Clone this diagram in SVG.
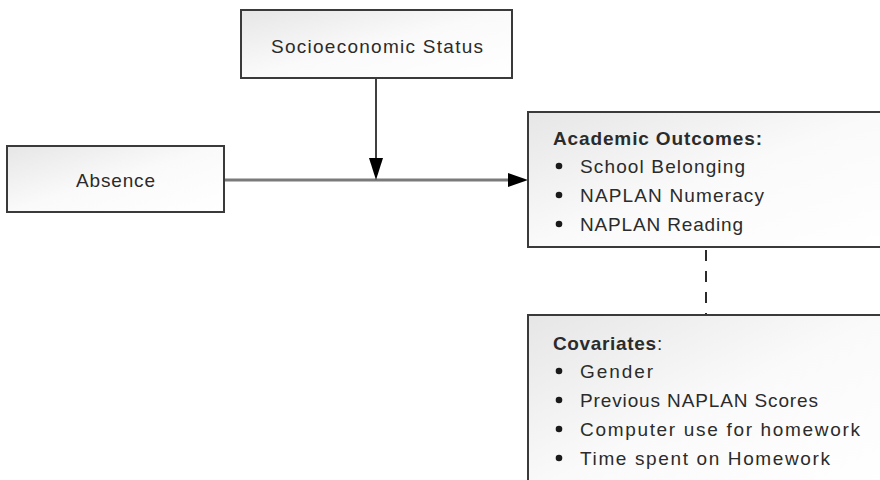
<svg xmlns="http://www.w3.org/2000/svg" width="880" height="480" viewBox="0 0 880 480">
<defs>
<linearGradient id="g" x1="0" y1="0" x2="1" y2="1">
<stop offset="0" stop-color="#e6e6e6"/>
<stop offset="0.5" stop-color="#fafafa"/>
<stop offset="1" stop-color="#ffffff"/>
</linearGradient>
</defs>
<style>
.box{fill:url(#g);stroke:#3a3a3a;stroke-width:2}
.t{font-family:"Liberation Sans",Arial,sans-serif;font-size:19px;fill:#2b2b2b}
.b{font-weight:bold}
.dot{fill:#1a1a1a}
.head{fill:#000}
</style>
<rect width="880" height="480" fill="#fff"/>
<g id="connectors">
<line x1="225" y1="180" x2="510" y2="180" stroke="#7a7a7a" stroke-width="3"/>
<path class="head" d="M508,173 L528,180 L508,187 z"/>
<line x1="376" y1="78" x2="376" y2="160" stroke="#000" stroke-width="1.5"/>
<path class="head" d="M369,158 L383,158 L376,180 z"/>
<line x1="706" y1="247" x2="706" y2="315" stroke="#2b2b2b" stroke-width="2" stroke-dasharray="11,10" stroke-dashoffset="-3"/>
</g>
<g id="ses">
<rect class="box" x="241" y="10" width="271" height="68"/>
<text class="t" x="271" y="53" textLength="212" lengthAdjust="spacing">Socioeconomic Status</text>
</g>
<g id="absence">
<rect class="box" x="7" y="146" width="217" height="66"/>
<text class="t" x="76" y="187" textLength="79" lengthAdjust="spacing">Absence</text>
</g>
<g id="outcomes">
<rect class="box" x="528" y="112" width="360" height="135"/>
<text class="t b" x="553" y="145" textLength="209" lengthAdjust="spacing">Academic Outcomes:</text>
<circle class="dot" cx="559" cy="166" r="3.3"/>
<text class="t" x="580" y="173" textLength="165" lengthAdjust="spacing">School Belonging</text>
<circle class="dot" cx="559" cy="195" r="3.3"/>
<text class="t" x="580" y="202" textLength="184" lengthAdjust="spacing">NAPLAN Numeracy</text>
<circle class="dot" cx="559" cy="224" r="3.3"/>
<text class="t" x="580" y="231" textLength="163" lengthAdjust="spacing">NAPLAN Reading</text>
</g>
<g id="covariates">
<rect class="box" x="528" y="315" width="360" height="180"/>
<text class="t b" x="553" y="350" textLength="103" lengthAdjust="spacing">Covariates</text>
<text class="t" x="657" y="350">:</text>
<circle class="dot" cx="559" cy="371" r="3.3"/>
<text class="t" x="580" y="378" textLength="73" lengthAdjust="spacing">Gender</text>
<circle class="dot" cx="559" cy="400" r="3.3"/>
<text class="t" x="580" y="407" textLength="238" lengthAdjust="spacing">Previous NAPLAN Scores</text>
<circle class="dot" cx="559" cy="429" r="3.3"/>
<text class="t" x="580" y="436" textLength="280" lengthAdjust="spacing">Computer use for homework</text>
<circle class="dot" cx="559" cy="458" r="3.3"/>
<text class="t" x="580" y="465" textLength="250" lengthAdjust="spacing">Time spent on Homework</text>
</g>
</svg>
